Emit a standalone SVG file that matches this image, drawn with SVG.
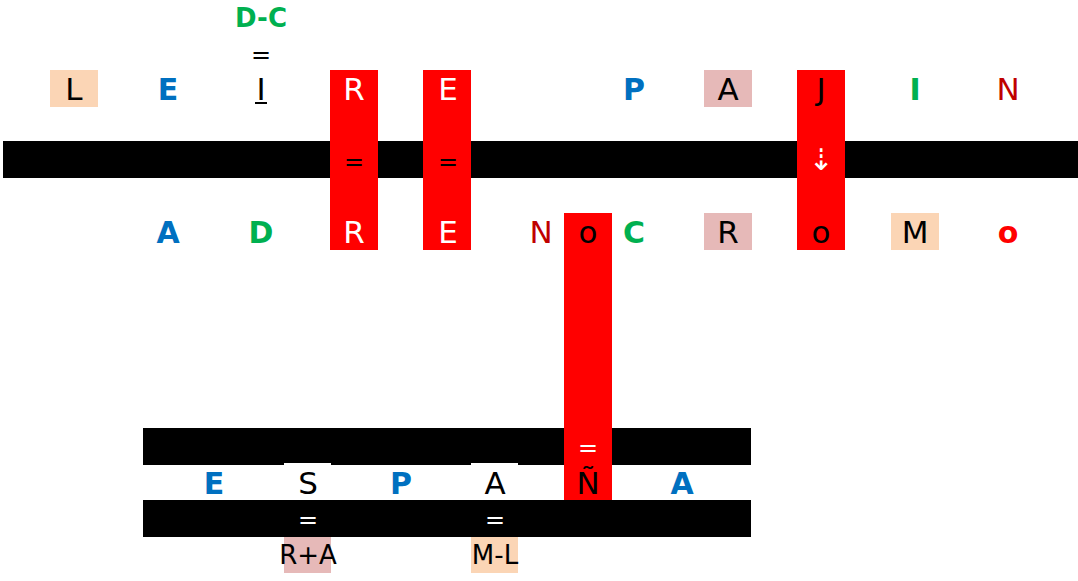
<svg xmlns="http://www.w3.org/2000/svg" width="1078" height="581" viewBox="0 0 1078 581">
<style>
text{font-family:"DejaVu Sans","Liberation Sans",sans-serif;text-anchor:middle}
.r{font-size:31px;fill:#000}
.w{font-size:31px;fill:#fff}
.b{font-size:30px;font-weight:bold;fill:#0070C0}
.g{font-size:30px;font-weight:bold;fill:#00B050}
.dr{font-size:31px;fill:#C00000}
.ro{font-size:30px;font-weight:bold;fill:#FF0000}
.eq{font-size:24px;fill:#000}
.eqw{font-size:24px;fill:#fff}
.sm{font-size:26px;fill:#000}
.peach{fill:#FBD5B5}
.pink{fill:#E6B9B8}
.red{fill:#FF0000}
.blk{fill:#000}
</style>
<rect width="1078" height="581" fill="#fff"/>
<g id="bands">
<rect class="blk" x="3" y="141" width="1075" height="37"/>
<rect class="blk" x="143" y="428" width="608" height="37"/>
<rect class="blk" x="143" y="500" width="608" height="37"/>
</g>
<g id="columns">
<rect class="red" x="330" y="70" width="48" height="180"/>
<rect class="red" x="423" y="70" width="48" height="180"/>
<rect class="red" x="797" y="70" width="48" height="180"/>
<rect class="red" x="564" y="213" width="48" height="287"/>
</g>
<g id="connectors">
<text class="eq" x="354" y="170">=</text>
<text class="eq" x="448" y="170">=</text>
<text x="821" y="170" style="font-size:30px;fill:#fff">⇣</text>
<text class="eq" x="261" y="63">=</text>
<text class="eqw" x="588" y="456">=</text>
<text class="eqw" x="308" y="528">=</text>
<text class="eqw" x="495" y="528">=</text>
</g>
<g id="dc"><text class="g" x="261" y="27" style="font-size:26px">D-C</text></g>
<g id="t1"><rect class="peach" x="50" y="70" width="48" height="37"/><text class="r" x="74" y="100">L</text></g>
<g id="t2"><text class="b" x="168" y="100">E</text></g>
<g id="t3"><text class="r" x="261" y="100">I</text><rect x="255" y="102" width="12" height="2" fill="#000"/></g>
<g id="t4"><text class="w" x="354" y="100">R</text></g>
<g id="t5"><text class="w" x="448" y="100">E</text></g>
<g id="t7"><text class="b" x="634" y="100">P</text></g>
<g id="t8"><rect class="pink" x="704" y="70" width="48" height="37"/><text class="r" x="728" y="100">A</text></g>
<g id="t9"><text class="r" x="821" y="100">J</text></g>
<g id="t10"><text class="g" x="915" y="100">I</text></g>
<g id="t11"><text class="dr" x="1008" y="100">N</text></g>
<g id="b2"><text class="b" x="168" y="243">A</text></g>
<g id="b3"><text class="g" x="261" y="243">D</text></g>
<g id="b4"><text class="w" x="354" y="243">R</text></g>
<g id="b5"><text class="w" x="448" y="243">E</text></g>
<g id="b6"><text class="dr" x="541" y="243">N</text></g>
<g id="b6o"><text class="r" x="588" y="243">o</text></g>
<g id="b7"><text class="g" x="634" y="243">C</text></g>
<g id="b8"><rect class="pink" x="704" y="213" width="48" height="37"/><text class="r" x="728" y="243">R</text></g>
<g id="b9"><text class="r" x="821" y="243">o</text></g>
<g id="b10"><rect class="peach" x="891" y="213" width="48" height="37"/><text class="r" x="915" y="243">M</text></g>
<g id="b11"><text class="ro" x="1008" y="243">o</text></g>
<g id="m1"><text class="b" x="214" y="494">E</text></g>
<g id="m2"><rect x="284" y="463" width="47" height="37" fill="#fff"/><text class="r" x="308" y="494">S</text></g>
<g id="m3"><text class="b" x="401" y="494">P</text></g>
<g id="m4"><rect x="471" y="463" width="47" height="37" fill="#fff"/><text class="r" x="495" y="494">A</text></g>
<g id="m5"><text class="r" x="588" y="494">Ñ</text></g>
<g id="m6"><text class="b" x="682" y="494">A</text></g>
<g id="s1"><rect class="pink" x="284" y="537" width="47" height="36"/><text class="sm" x="308" y="564">R+A</text></g>
<g id="s2"><rect class="peach" x="471" y="537" width="47" height="36"/><text class="sm" x="495" y="564">M-L</text></g>
</svg>
